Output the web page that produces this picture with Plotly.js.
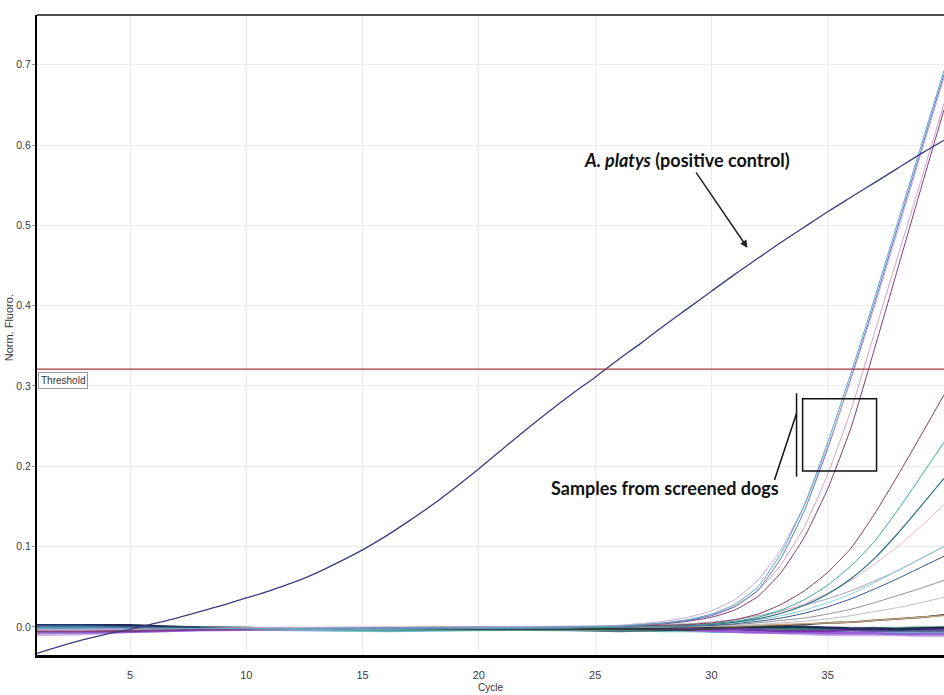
<!DOCTYPE html>
<html>
<head>
<meta charset="utf-8">
<script src="https://cdn.plot.ly/plotly-3.0.1.min.js"></script>
<style>
html,body{margin:0;padding:0;background:#fff;}
#chart{width:944px;height:695px;}
</style>
</head>
<body>
<div id="chart"></div>
<script>
// ---- Data ----
const cycles = [1,2,3,4,5,6,7,8,9,10,11,12,13,14,15,16,17,18,19,20,21,22,23,24,25,26,27,28,29,30,31,32,33,34,35,36,37,38,39,40];
const controlFluoro = [-0.033,-0.024,-0.016,-0.009,-0.003,0.004,0.011,0.019,0.027,0.036,0.045,0.055,0.067,0.081,0.096,0.113,0.132,0.152,0.174,0.197,0.221,0.245,0.268,0.290,0.311,0.333,0.354,0.376,0.397,0.418,0.439,0.459,0.479,0.498,0.517,0.535,0.553,0.571,0.589,0.606];

const sampleCycles = [1,3,5,8,12,16,20,24,26,28,29,30,31,32,33,34,35,36,37,38,39,40];
const sampleA = [-0.001,-0.001,-0.002,-0.002,-0.002,-0.001,-0.001,0.000,0.001,0.005,0.009,0.016,0.028,0.050,0.092,0.152,0.230,0.316,0.408,0.503,0.598,0.693];
const sampleB = [-0.003,-0.003,-0.002,-0.002,-0.001,-0.001,0.000,0.001,0.002,0.007,0.012,0.020,0.034,0.058,0.097,0.152,0.225,0.308,0.398,0.492,0.588,0.684];
const sampleB2 = [0.000,0.000,-0.001,-0.002,-0.002,-0.002,-0.001,0.000,0.001,0.005,0.008,0.014,0.025,0.046,0.086,0.145,0.222,0.310,0.402,0.497,0.592,0.688];
const sampleD = [-0.004,-0.004,-0.003,-0.002,-0.001,0.000,0.000,0.000,0.001,0.005,0.009,0.015,0.026,0.045,0.078,0.125,0.190,0.270,0.365,0.460,0.555,0.652];
const sampleC = [-0.006,-0.006,-0.005,-0.003,-0.002,-0.001,0.000,0.000,0.001,0.004,0.007,0.012,0.021,0.038,0.068,0.112,0.172,0.248,0.345,0.445,0.545,0.644];
const sampleE = [-0.005,-0.005,-0.004,-0.003,-0.002,-0.001,0.000,0.000,0.001,0.002,0.003,0.005,0.009,0.016,0.028,0.045,0.068,0.098,0.140,0.188,0.238,0.289];
const sampleF = [-0.002,-0.002,-0.002,-0.002,-0.002,-0.002,-0.001,-0.001,0.000,0.001,0.002,0.004,0.007,0.012,0.021,0.034,0.052,0.076,0.106,0.145,0.187,0.230];
const sampleG = [0.001,0.001,-0.001,-0.002,-0.002,-0.002,-0.001,-0.001,0.000,0.001,0.002,0.003,0.006,0.010,0.017,0.027,0.041,0.060,0.085,0.116,0.150,0.185];
const sampleH = [-0.003,-0.003,-0.003,-0.002,-0.001,-0.001,0.000,0.000,0.001,0.002,0.003,0.004,0.007,0.012,0.019,0.029,0.042,0.058,0.078,0.100,0.125,0.152];
const sampleI = [-0.006,-0.006,-0.004,-0.003,-0.003,-0.003,-0.002,-0.001,0.000,0.001,0.002,0.003,0.005,0.009,0.014,0.021,0.030,0.041,0.055,0.070,0.085,0.100];
const sampleJ = [0.002,0.002,0.000,-0.001,-0.002,-0.002,-0.002,-0.001,0.000,0.001,0.001,0.002,0.004,0.007,0.011,0.017,0.025,0.035,0.047,0.060,0.074,0.088];
const sampleK = [-0.004,-0.004,-0.003,-0.002,-0.002,-0.001,-0.001,0.000,0.001,0.003,0.004,0.006,0.009,0.014,0.020,0.027,0.035,0.045,0.057,0.070,0.085,0.100];
const sampleL = [-0.002,-0.002,-0.002,-0.002,-0.002,-0.001,-0.001,0.000,0.000,0.001,0.001,0.002,0.003,0.005,0.008,0.011,0.016,0.022,0.030,0.039,0.048,0.058];
const sampleM = [-0.003,-0.003,-0.003,-0.002,-0.002,-0.002,-0.001,-0.001,0.000,0.000,0.001,0.001,0.002,0.003,0.005,0.007,0.010,0.014,0.019,0.024,0.030,0.037];
const sampleN = [-0.002,-0.002,-0.002,-0.002,-0.001,-0.001,-0.001,0.000,0.000,0.000,0.000,0.001,0.001,0.002,0.003,0.004,0.005,0.006,0.008,0.010,0.012,0.014];
const sampleO = [0.000,0.000,0.000,-0.001,-0.002,-0.002,-0.002,-0.002,-0.003,-0.004,-0.004,-0.002,0.000,0.001,0.002,0.003,0.005,0.006,0.008,0.010,0.012,0.015];
const sampleP = [0.002,0.002,0.002,-0.001,-0.002,-0.002,-0.002,-0.002,-0.002,-0.001,0.000,0.000,0.000,0.000,0.000,0.000,-0.001,-0.002,-0.002,-0.003,-0.002,-0.001];
const sampleQ = [-0.005,-0.005,-0.005,-0.003,-0.002,-0.002,-0.001,-0.001,-0.001,-0.002,-0.002,-0.003,-0.003,-0.004,-0.005,-0.005,-0.005,-0.004,-0.004,-0.003,-0.003,-0.003];
const sampleR = [-0.007,-0.007,-0.006,-0.004,-0.003,-0.002,-0.002,-0.002,-0.002,-0.003,-0.004,-0.005,-0.006,-0.007,-0.007,-0.007,-0.008,-0.008,-0.008,-0.009,-0.009,-0.009];
const sampleS = [-0.001,-0.001,-0.001,-0.001,-0.002,-0.003,-0.003,-0.003,-0.003,-0.002,-0.001,-0.001,0.000,-0.001,-0.002,-0.003,-0.003,-0.003,-0.002,-0.002,-0.001,-0.001];
const sampleT = [-0.002,-0.002,-0.002,-0.002,-0.003,-0.003,-0.003,-0.003,-0.003,-0.003,-0.004,-0.004,-0.004,-0.004,-0.004,-0.003,-0.003,-0.003,-0.003,-0.002,-0.002,-0.002];
const sampleU = [0.000,0.000,0.000,-0.001,-0.002,-0.004,-0.003,-0.004,-0.005,-0.004,-0.003,-0.002,-0.002,-0.003,-0.003,-0.004,-0.004,-0.004,-0.005,-0.005,-0.005,-0.005];
const sampleV = [-0.001,-0.001,-0.002,-0.002,-0.004,-0.005,-0.004,-0.003,-0.004,-0.005,-0.005,-0.006,-0.006,-0.006,-0.006,-0.006,-0.007,-0.007,-0.007,-0.006,-0.006,-0.006];
const sampleW = [-0.010,-0.009,-0.006,-0.004,-0.003,-0.003,-0.003,-0.002,-0.002,-0.002,-0.003,-0.004,-0.005,-0.006,-0.008,-0.009,-0.010,-0.010,-0.010,-0.010,-0.011,-0.011];

const thresholdValue = 0.321;
const xTicks = [5,10,15,20,25,30,35,40];
const yTicks = [0.0,0.1,0.2,0.3,0.4,0.5,0.6,0.7];
const yTickText = ['0.0','0.1','0.2','0.3','0.4','0.5','0.6','0.7'];

// ---- Series styling (flat first so rising curves sit on top) ----
const samples = [
  [sampleW,'#c9b3e8',2.5], [sampleV,'#6cc6de',2.5], [sampleU,'#4f7390',2.5], [sampleT,'#b2d8a8',2.5],
  [sampleS,'#2f8a60',2.5], [sampleR,'#9a62d6',2.5], [sampleQ,'#7634a8',2.5], [sampleP,'#1d2c58',2.5],
  [sampleO,'#3a4536',1.8], [sampleN,'#c9a07e',1.3], [sampleM,'#bdbdc6',1], [sampleL,'#8f9096',1],
  [sampleK,'#a2a2b0',1], [sampleJ,'#34508e',1], [sampleI,'#86cfd8',1], [sampleH,'#e6b6c8',1],
  [sampleG,'#2e6f86',1.2], [sampleF,'#3aa796',1], [sampleE,'#853d62',1],
  [sampleC,'#7b3c74',1], [sampleD,'#d7a0c4',1], [sampleB2,'#5a70c2',1], [sampleB,'#c8a6dc',1], [sampleA,'#5aa7c4',1]
];

const traces = samples.map(s => ({
  x: sampleCycles, y: s[0], type: 'scatter', mode: 'lines',
  line: {color: s[1], width: s[2], shape: 'spline', smoothing: 0.5}, hoverinfo: 'skip', showlegend: false
}));
traces.push({
  x: cycles, y: controlFluoro, type: 'scatter', mode: 'lines',
  line: {color: '#3b3d7e', width: 1.3, shape: 'spline', smoothing: 0.8}, showlegend: false
});
traces.push({
  x: [cycles[0], cycles[cycles.length-1]], y: [thresholdValue, thresholdValue],
  type: 'scatter', mode: 'lines', line: {color: '#a23a3a', width: 1.2}, showlegend: false
});

const tickFont = {family: '"Liberation Sans Narrow", "Liberation Sans", Arial, sans-serif', size: 11, color: '#3a3a3a'};
const yTickFont = {family: '"Liberation Sans Narrow", "Liberation Sans", Arial, sans-serif', size: 10.5, color: '#3a3a3a'};
const annFont = {family: 'Lato, "Liberation Sans", Arial, sans-serif', size: 18, color: '#111'};

const layout = {
  width: 944, height: 695,
  margin: {l: 37, r: 0, t: 15, b: 40},
  paper_bgcolor: '#ffffff', plot_bgcolor: '#ffffff',
  showlegend: false,
  xaxis: {
    range: [1, 40], tickvals: xTicks, ticktext: xTicks.map(String),
    showgrid: true, gridcolor: '#ebebeb', gridwidth: 1, zeroline: false,
    showline: true, linecolor: '#000', linewidth: 3,
    ticks: '', tickfont: tickFont, ticklabelstandoff: 8,
    title: {text: 'Cycle', font: {family: tickFont.family, size: 10, color: '#333'}, standoff: 4}
  },
  yaxis: {
    range: [-0.035, 0.762], tickvals: yTicks, ticktext: yTickText,
    showgrid: true, gridcolor: '#ebebeb', gridwidth: 1, zeroline: false,
    showline: true, linecolor: '#000', linewidth: 2,
    ticks: 'outside', ticklen: 3, tickcolor: '#999', tickfont: yTickFont, ticklabelstandoff: -1
  },
  shapes: [
    {type: 'line', xref: 'paper', yref: 'paper', x0: 0, x1: 1, y0: 1, y1: 1, line: {color: '#111', width: 1.5}},
    {type: 'line', xref: 'x', yref: 'y', x0: 32.71, y0: 0.183, x1: 33.66, y1: 0.266, line: {color: '#111', width: 1.5}},
    {type: 'line', xref: 'x', yref: 'y', x0: 33.66, y0: 0.187, x1: 33.66, y1: 0.291, line: {color: '#111', width: 1.5}},
    {type: 'rect', xref: 'x', yref: 'y', x0: 33.92, y0: 0.194, x1: 37.10, y1: 0.284, line: {color: '#111', width: 1.5}}
  ],
  annotations: [
    {xref: 'paper', x: -0.0309, xanchor: 'center', yref: 'paper', y: 0.512, yanchor: 'middle',
     text: 'Norm. Fluoro.', textangle: -90, showarrow: false,
     font: {family: 'Arial, "Liberation Sans", sans-serif', size: 11, color: '#333'}},
    {xref: 'paper', x: 0.001, xanchor: 'left', yref: 'y', y: thresholdValue - 0.004, yanchor: 'top',
     text: 'Threshold', showarrow: false, font: {family: tickFont.family, size: 10, color: '#333'},
     bgcolor: '#ffffff', bordercolor: '#9a9a9a', borderwidth: 1, borderpad: 2},
    {xref: 'x', yref: 'y', x: 31.55, y: 0.472, ax: -60, ay: -88,
     text: '<b><i>A. platys</i> (positive control)</b>', font: annFont,
     showarrow: true, arrowhead: 2, arrowsize: 1, arrowwidth: 1.5, arrowcolor: '#222'},
    {xref: 'x', yref: 'y', x: 27.99, y: 0.173, text: '<b>Samples from screened dogs</b>',
     font: annFont, showarrow: false}
  ]
};

Plotly.newPlot('chart', traces, layout, {staticPlot: true, displayModeBar: false});
</script>
</body>
</html>
